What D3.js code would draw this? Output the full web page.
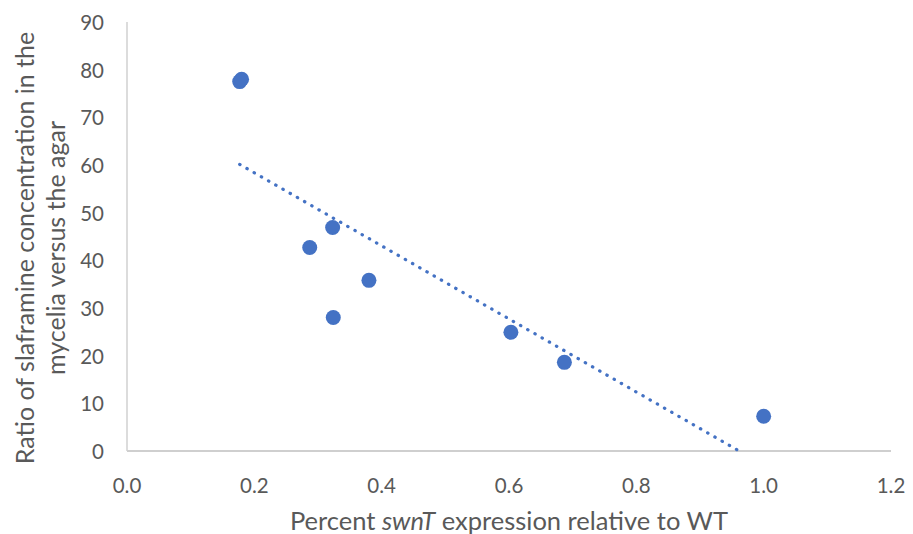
<!DOCTYPE html>
<meta charset="utf-8">
<head>
    <title>Slaframine ratio vs swnT expression</title>
    <script src="https://cdn.jsdelivr.net/npm/d3@7"></script>
    <style>
        body { margin: 0; background: #fff; }
        text { font-family: "Lato", "Open Sans", sans-serif; fill: #595959; }
    </style>
</head>
<body>
<script>

// data (two points overlap near x=0.18)
var expression = [0.177, 0.180, 0.323, 0.287, 0.380, 0.324, 0.603, 0.687, 1.000]
var ratio      = [77.5, 78.0, 46.9, 42.7, 35.8, 28.0, 24.9, 18.6, 7.3]
var xTicks = [0, 0.2, 0.4, 0.6, 0.8, 1.0, 1.2]
var yTicks = [0, 10, 20, 30, 40, 50, 60, 70, 80, 90]

var w = 913
var h = 534
var blue = "#4472C4"

var svg = d3.select("body").append("svg").attr("width", w).attr("height", h)

var x = d3.scaleLinear().domain([0, 1.2]).range([127, 891])
var y = d3.scaleLinear().domain([0, 90]).range([451, 22])

// axes
svg.append("line")
    .attr("x1", x(0)).attr("x2", x(1.2))
    .attr("y1", y(0)).attr("y2", y(0))
    .style("stroke", "#BFBFBF").style("stroke-width", 1.5)
svg.append("line")
    .attr("x1", x(0)).attr("x2", x(0))
    .attr("y1", y(0)).attr("y2", y(90))
    .style("stroke", "#D0D0D0").style("stroke-width", 1.5)

svg.append("g").selectAll("text")
    .data(xTicks).enter()
    .append("text")
    .attr("x", function(d) {return x(d)})
    .attr("y", 493)
    .attr("text-anchor", "middle")
    .style("font-size", "20.5px")
    .text(function(d) {return d3.format(".1f")(d)})

svg.append("g").selectAll("text")
    .data(yTicks).enter()
    .append("text")
    .attr("x", 104)
    .attr("y", function(d) {return y(d) + 8})
    .attr("text-anchor", "end")
    .style("font-size", "20.5px")
    .text(function(d) {return d})

// axis titles
var xt = svg.append("text")
    .attr("x", (x(0) + x(1.2)) / 2)
    .attr("y", 530)
    .attr("text-anchor", "middle")
    .style("font-size", "25.5px")
xt.append("tspan").text("Percent ")
xt.append("tspan").style("font-style", "italic").text("swnT")
xt.append("tspan").text(" expression relative to WT")

var yt = svg.append("text")
    .attr("transform", "translate(34,248) rotate(-90)")
    .attr("text-anchor", "middle")
    .style("font-size", "25px")
yt.append("tspan").attr("x", 0).attr("dy", 0).text("Ratio of slaframine concentration in the")
yt.append("tspan").attr("x", 0).attr("dy", 31).text("mycelia versus the agar")

// linear trendline (least squares), clipped at y = 0 like Excel
var mx = d3.mean(expression), my = d3.mean(ratio)
var sxy = d3.sum(expression, function(v, i) {return (v - mx) * (ratio[i] - my)})
var sxx = d3.sum(expression, function(v) {return (v - mx) * (v - mx)})
var slope = sxy / sxx
var icpt = my - slope * mx
var x0 = d3.min(expression)
var x1 = Math.min(d3.max(expression), -icpt / slope)

svg.append("line")
    .attr("x1", x(x0)).attr("y1", y(icpt + slope * x0))
    .attr("x2", x(x1)).attr("y2", y(icpt + slope * x1))
    .style("stroke", blue)
    .style("stroke-width", 3.2)
    .style("stroke-linecap", "round")
    .style("stroke-dasharray", "0.4 7.9")

// points
svg.append("g").selectAll("circle")
    .data(expression).enter()
    .append("circle")
    .attr("cx", function(d) {return x(d)})
    .attr("cy", function(d, i) {return y(ratio[i])})
    .attr("r", 7.5)
    .style("fill", blue)

</script>
</body>
</html>
